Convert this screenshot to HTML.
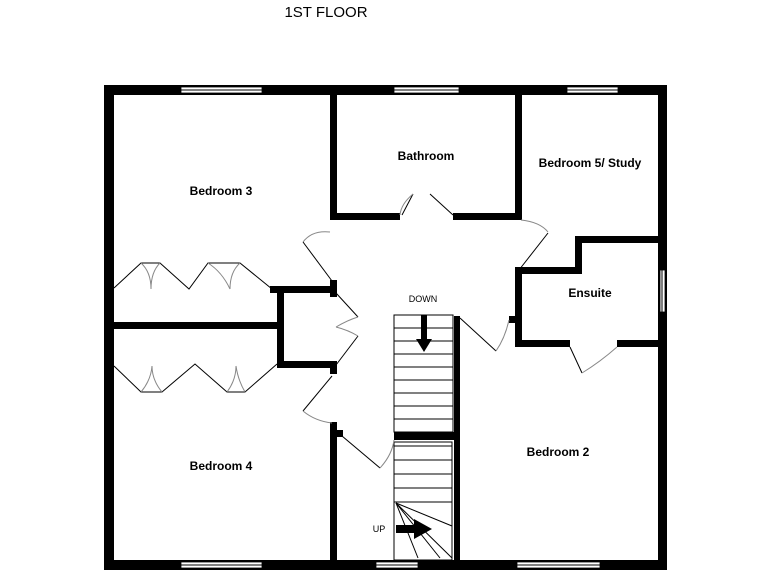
<!DOCTYPE html>
<html><head><style>html,body{margin:0;padding:0;background:#fff}svg{display:block}</style></head><body>
<svg width="768" height="576" viewBox="0 0 768 576" xmlns="http://www.w3.org/2000/svg" font-family="Liberation Sans, sans-serif">
<rect width="768" height="576" fill="#fff"/>
<text x="326" y="17" font-size="15" text-anchor="middle">1ST FLOOR</text>
<g fill="#000">
<rect x="104" y="85" width="563" height="10"/>
<rect x="104" y="560" width="563" height="10"/>
<rect x="104" y="85" width="10" height="485"/>
<rect x="658" y="85" width="9" height="485"/>
<rect x="330" y="95" width="7" height="125"/>
<rect x="330" y="213" width="70" height="7"/>
<rect x="453" y="213" width="68" height="7"/>
<rect x="515" y="95" width="7" height="125"/>
<rect x="114" y="322" width="166" height="7"/>
<rect x="277" y="287" width="7" height="81"/>
<rect x="270" y="286" width="62" height="7"/>
<rect x="277" y="361" width="59" height="7"/>
<rect x="330" y="280" width="7" height="17"/>
<rect x="330" y="361" width="7" height="13"/>
<rect x="330" y="422" width="7" height="140"/>
<rect x="337" y="430" width="6" height="7"/>
<rect x="454" y="316" width="6" height="246"/>
<rect x="394" y="432" width="60" height="8"/>
<rect x="575" y="236" width="83" height="7"/>
<rect x="575" y="236" width="7" height="38"/>
<rect x="515" y="267" width="67" height="7"/>
<rect x="515" y="267" width="7" height="80"/>
<rect x="509" y="316" width="6" height="7"/>
<rect x="515" y="340" width="55" height="7"/>
<rect x="617" y="340" width="41" height="7"/>
</g>
<g fill="#fff" stroke="#000" stroke-width="0.8">
<rect x="181" y="87" width="81" height="6"/>
<rect x="394" y="87" width="65" height="6"/>
<rect x="567" y="87" width="51" height="6"/>
<rect x="181" y="562" width="81" height="6"/>
<rect x="376" y="562" width="42" height="6"/>
<rect x="517" y="562" width="83" height="6"/>
<rect x="660" y="270" width="5" height="42"/>
</g>
<g stroke="#000" stroke-width="1" fill="none">
<line x1="181" y1="90" x2="262" y2="90"/><line x1="394" y1="90" x2="459" y2="90"/><line x1="567" y1="90" x2="618" y2="90"/>
<line x1="181" y1="565" x2="262" y2="565"/><line x1="376" y1="565" x2="418" y2="565"/><line x1="517" y1="565" x2="600" y2="565"/>
<line x1="662" y1="270" x2="662" y2="312"/>
<rect x="394" y="315" width="59" height="117"/>
<line x1="394" y1="328" x2="453" y2="328"/><line x1="394" y1="341" x2="453" y2="341"/><line x1="394" y1="354" x2="453" y2="354"/>
<line x1="394" y1="367" x2="453" y2="367"/><line x1="394" y1="380" x2="453" y2="380"/><line x1="394" y1="393" x2="453" y2="393"/>
<line x1="394" y1="406" x2="453" y2="406"/><line x1="394" y1="419" x2="453" y2="419"/>
<rect x="394" y="442" width="58" height="118"/>
<line x1="394" y1="446" x2="452" y2="446"/>
<line x1="394" y1="460" x2="452" y2="460"/><line x1="394" y1="474" x2="452" y2="474"/><line x1="394" y1="488" x2="452" y2="488"/><line x1="394" y1="502" x2="452" y2="502"/>
<line x1="396" y1="503" x2="452" y2="526"/><line x1="396" y1="503" x2="452" y2="558"/><line x1="396" y1="503" x2="418" y2="558"/><line x1="396" y1="503" x2="440" y2="558"/>
<line x1="402" y1="215" x2="413" y2="194"/><path d="M413 194 Q401 204 400 215" stroke="#888"/>
<line x1="430" y1="194" x2="453" y2="215"/>
<path d="M521 220 Q540 222 548 232" stroke="#888"/>
<line x1="519" y1="270" x2="548" y2="233"/>
<path d="M330 232 Q312 230 303 242" stroke="#888"/><line x1="303" y1="242" x2="332" y2="281"/>
<line x1="336" y1="293" x2="358" y2="317"/><line x1="358" y1="336" x2="336" y2="365"/>
<path d="M336 327 Q348 320 358 317 M336 327 Q348 330 358 336" stroke="#888"/>
<line x1="332" y1="376" x2="303" y2="411"/><path d="M303 411 Q315 421 332 423" stroke="#888"/>
<line x1="342" y1="436" x2="380" y2="468"/><path d="M380 468 Q392 455 394 440" stroke="#888"/>
<line x1="460" y1="318" x2="496" y2="351"/><path d="M496 351 Q505 338 509 320" stroke="#888"/>
<line x1="570" y1="347" x2="582" y2="373"/><path d="M582 373 Q600 362 617 347" stroke="#888"/>
<polyline points="114,288 141,263 160,263 189,289 208,263 240,263 272,289"/>
<polyline points="114,366 141,392 162,392 195,364 227,392 245,392 277,364"/>
<path d="M141 263 Q151 272 151 289 M160 263 Q151 272 151 289 M240 263 Q230 272 230 289 M208 263 Q222 272 230 289" stroke="#888"/>
<path d="M141 392 Q151 380 152 366 M162 392 Q152 380 152 366 M227 392 Q236 380 236 366 M245 392 Q238 380 236 366" stroke="#888"/>
</g>
<g fill="#000">
<rect x="421" y="315" width="6" height="25"/><polygon points="416,339 432,339 424,352"/>
<rect x="396" y="525" width="20" height="8"/><polygon points="414,519 414,539 432,529"/>
</g>
<g font-size="12" font-weight="bold" text-anchor="middle">
<text x="221" y="195">Bedroom 3</text>
<text x="426" y="160">Bathroom</text>
<text x="590" y="167">Bedroom 5/ Study</text>
<text x="590" y="297">Ensuite</text>
<text x="221" y="470">Bedroom 4</text>
<text x="558" y="456">Bedroom 2</text>
</g>
<text x="423" y="302" font-size="9" text-anchor="middle">DOWN</text>
<text x="379" y="532" font-size="9" text-anchor="middle">UP</text>
</svg>
</body></html>
